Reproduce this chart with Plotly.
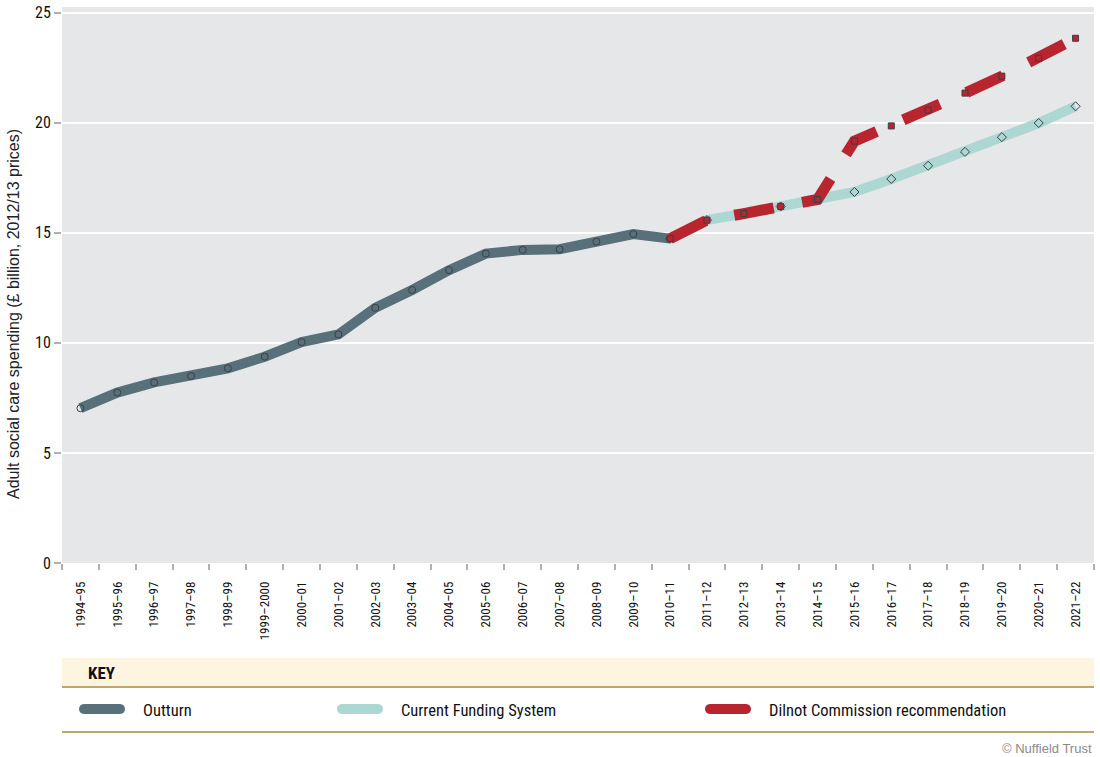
import plotly.graph_objects as go

categories = ["1994–95", "1995–96", "1996–97", "1997–98", "1998–99", "1999–2000",
              "2000–01", "2001–02", "2002–03", "2003–04", "2004–05", "2005–06",
              "2006–07", "2007–08", "2008–09", "2009–10", "2010–11", "2011–12",
              "2012–13", "2013–14", "2014–15", "2015–16", "2016–17", "2017–18",
              "2018–19", "2019–20", "2020–21", "2021–22"]

outturn = [7.03, 7.74, 8.20, 8.49, 8.84, 9.37, 10.03, 10.38, 11.59, 12.40, 13.30,
           14.05, 14.22, 14.25, 14.59, 14.94, 14.73] + [None] * 11

current_funding = [None] * 16 + [14.73, 15.57, 15.87, 16.19, 16.51, 16.85, 17.44,
                                 18.04, 18.67, 19.34, 19.98, 20.74]

dilnot = [None] * 16 + [14.73, 15.57, 15.87, 16.19, 16.51, 19.16, 19.85, 20.57,
                        21.34, 22.11, 22.92, 23.83]

y_ticks = [0, 5, 10, 15, 20, 25]

C_OUT = "#587079"
C_CFS = "#acd7d3"
C_DIL = "#b8252f"
NARROW = "Roboto Condensed, Liberation Sans Narrow, DejaVu Sans Condensed, sans-serif"
SANS = "Liberation Sans, Arial, sans-serif"

fig = go.Figure()
fig.add_trace(go.Scatter(
    x=categories, y=outturn, mode="lines+markers",
    line=dict(color=C_OUT, width=10),
    marker=dict(symbol="circle-open", size=7, color="#3a3f44", line=dict(width=1)),
    name="Outturn"))
fig.add_trace(go.Scatter(
    x=categories, y=current_funding, mode="lines+markers",
    line=dict(color=C_CFS, width=10),
    marker=dict(symbol="diamond-open", size=7, color="#3a3f44", line=dict(width=1)),
    name="Current Funding System"))
fig.add_trace(go.Scatter(
    x=categories, y=dilnot, mode="lines+markers",
    line=dict(color=C_DIL, width=11, dash="40px,29px"),
    marker=dict(symbol="square", size=6, color=C_DIL, line=dict(width=1, color="#3a3f44")),
    name="Dilnot Commission recommendation"))

W, H = 1100, 757
L, R, T, B = 62, 6, 7, 194
PH = H - T - B
PW = W - L - R


def py(pix):
    return (H - B - pix) / PH


def px(pix):
    return (pix - L) / PW


shapes = [
    dict(type="rect", xref="paper", yref="paper", x0=0, x1=1, y0=py(658), y1=py(687),
         fillcolor="#fdf5e0", line=dict(width=0), layer="below"),
    dict(type="line", xref="paper", yref="paper", x0=0, x1=1, y0=py(687), y1=py(687),
         line=dict(color="#a8893f", width=1.5)),
    dict(type="line", xref="paper", yref="paper", x0=0, x1=1, y0=py(732), y1=py(732),
         line=dict(color="#a8893f", width=1.5)),
]


def pill(a, b, color):
    a -= L
    b -= L
    r = 5
    k = r * 1.33
    path = (f"M {a+r},{-r} L {b-r},{-r} C {b-r+k},{-r} {b-r+k},{r} {b-r},{r} "
            f"L {a+r},{r} C {a+r-k},{r} {a+r-k},{-r} {a+r},{-r} Z")
    return dict(type="path", xref="paper", yref="paper", xsizemode="pixel",
                ysizemode="pixel", xanchor=0, yanchor=py(709), path=path,
                fillcolor=color, line=dict(width=0))


shapes += [pill(79, 125, C_OUT), pill(337, 383, C_CFS), pill(705, 751, C_DIL)]

annotations = [
    dict(text="Adult social care spending (£ billion, 2012/13 prices)", textangle=-90,
         x=px(13), y=py(314), xref="paper", yref="paper", xanchor="center",
         yanchor="middle", showarrow=False,
         font=dict(family=SANS, size=16, color="#222")),
    dict(text="<b>KEY</b>", x=px(86), y=py(673), xref="paper", yref="paper",
         xanchor="left", yanchor="middle", showarrow=False,
         font=dict(family=NARROW, size=17, color="#111")),
    dict(text="Outturn", x=px(141), y=py(710), xref="paper", yref="paper",
         xanchor="left", yanchor="middle", showarrow=False,
         font=dict(family=NARROW, size=16.5, color="#111")),
    dict(text="Current Funding System", x=px(399), y=py(710), xref="paper", yref="paper",
         xanchor="left", yanchor="middle", showarrow=False,
         font=dict(family=NARROW, size=16.5, color="#111")),
    dict(text="Dilnot Commission recommendation", x=px(767), y=py(710), xref="paper",
         yref="paper", xanchor="left", yanchor="middle", showarrow=False,
         font=dict(family=NARROW, size=16.5, color="#111")),
    dict(text="© Nuffield Trust", x=1, y=py(748), xref="paper", yref="paper",
         xanchor="right", yanchor="middle", showarrow=False,
         font=dict(family=SANS, size=13, color="#8a8a8a")),
]

fig.update_layout(
    width=W, height=H,
    margin=dict(l=L, r=R, t=T, b=B, autoexpand=False),
    paper_bgcolor="white", plot_bgcolor="#e6e7e9",
    showlegend=False,
    shapes=shapes, annotations=annotations,
    xaxis=dict(type="category", range=[-0.5, 27.5], tickangle=-90, showgrid=False,
               ticks="outside", tickson="boundaries", ticklen=6, tickwidth=2,
               tickcolor="#b0b0b0", zeroline=False, showline=False,
               ticklabelstandoff=15,
               tickfont=dict(family=NARROW, size=13, color="#111")),
    yaxis=dict(range=[0, 25.25], tickvals=y_ticks, showgrid=True, gridcolor="white",
               gridwidth=2, ticks="outside", ticklen=7, tickwidth=2, tickcolor="#b0b0b0",
               zeroline=False, showline=False,
               tickfont=dict(family=NARROW, size=16, color="#111")),
)

fig.write_html("out.html", config={"displayModeBar": False},
               post_script="document.body.style.margin='0px';")
